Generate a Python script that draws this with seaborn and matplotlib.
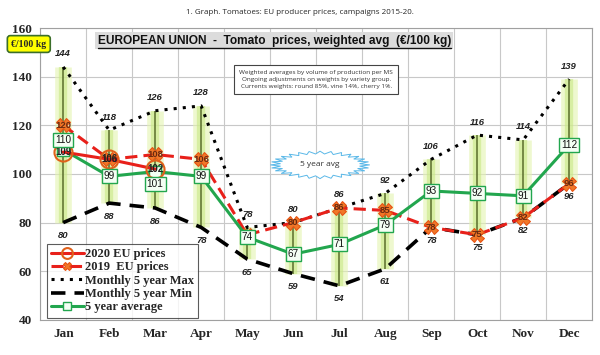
import numpy as np
import matplotlib
matplotlib.use("Agg")
import matplotlib.pyplot as plt
import matplotlib.patches as mpatches
import pandas as pd
import seaborn as sns

sns.set_theme(style="white")
plt.rcParams['font.family'] = ['Liberation Sans', 'DejaVu Sans']

months = ["Jan", "Feb", "Mar", "Apr", "May", "Jun", "Jul", "Aug", "Sep", "Oct", "Nov", "Dec"]
max_5y = [144, 118, 126, 128, 78, 80, 86, 92, 106, 116, 114, 139]
min_5y = [80, 88, 86, 78, 65, 59, 54, 61, 78, 75, 82, 96]
avg_5y = [110, 99, 101, 99, 74, 67, 71, 79, 93, 92, 91, 112]
prices_2019 = [120, 106, 108, 106, 75, 80, 86, 85, 78, 75, 82, 96]
prices_2020 = [109, 106, 102]

x = np.arange(len(months))
df = pd.DataFrame({"x": x, "max": max_5y, "min": min_5y, "avg": avg_5y, "p2019": prices_2019})
df20 = pd.DataFrame({"x": x[:len(prices_2020)], "p2020": prices_2020})

fig = plt.figure(figsize=(6, 3.55), dpi=100)
ax = fig.add_axes([0.067, 0.099, 0.92, 0.822])

# min-max range bars with a soft green glow
ax.vlines(x, min_5y, max_5y, colors="#e4f4b0", lw=12, alpha=0.6, zorder=1)
ax.vlines(x, min_5y, max_5y, colors="#c8e884", lw=6, alpha=0.6, zorder=1)
ax.vlines(x, min_5y, max_5y, colors="#5a6e2c", lw=1.1, zorder=2)

sns.lineplot(data=df, x="x", y="max", ax=ax, color="black", lw=2.2, linestyle=(0, (1, 2)),
             label="Monthly 5 year Max", zorder=3)
sns.lineplot(data=df, x="x", y="min", ax=ax, color="black", lw=2.6, linestyle=(0, (4, 2.5)),
             label="Monthly 5 year Min", zorder=3)
sns.lineplot(data=df, x="x", y="avg", ax=ax, color="#22a64e", lw=2.2, marker="s", ms=9,
             markerfacecolor="#f4fff4", markeredgecolor="#22a64e", markeredgewidth=1,
             label="5 year average", zorder=5)
sns.lineplot(data=df, x="x", y="p2019", ax=ax, color="#e8201a", lw=2.2, linestyle=(0, (4, 2)),
             marker="X", ms=10, markerfacecolor="#f07828", markeredgecolor="#e85010",
             label="2019  EU prices", zorder=4)
sns.lineplot(data=df20, x="x", y="p2020", ax=ax, color="#e8201a", lw=2.2, marker="o", ms=13,
             markerfacecolor="none", markeredgecolor="#e0601a", markeredgewidth=1.5,
             label="2020 EU prices", zorder=6)

lab_kw = dict(ha="center", fontsize=6.8, fontweight="bold", style="italic", color="#222222", zorder=8)
for xi, v in zip(x, max_5y):
    ax.text(xi, v + 3.5, str(v), va="bottom", **lab_kw)
for xi, v in zip(x, min_5y):
    ax.text(xi, v - 3.5, str(v), va="top", **lab_kw)
# May 2019 label is hidden behind the average box in the original
for xi, v in zip(x, prices_2019):
    if xi == 4:
        continue
    ax.text(xi, v, str(v), va="center", ha="center", fontsize=6.8, fontweight="bold",
            color="#6a2a10", zorder=7)
for xi, v in zip(x[:len(prices_2020)], prices_2020):
    ax.text(xi, v, str(v), va="center", ha="center", fontsize=7, fontweight="bold",
            color="#222222", zorder=8)
avg_shift = {0: 4, 2: -5}
for xi, v in zip(x, avg_5y):
    ax.text(xi, v + avg_shift.get(xi, 0), str(v), va="center", ha="center", fontsize=7.2,
            color="#111111",
            bbox=dict(boxstyle="square,pad=0.2", fc="#f4fff4", ec="#22a64e", lw=1), zorder=9)

ax.set_xlim(-0.5, 11.5)
ax.set_ylim(40, 160)
ax.set_yticks(np.arange(40, 161, 20))
ax.set_xticks(x)
ax.set_xticklabels(months)
ax.set_xticks(np.arange(-0.5, 12, 1), minor=True)
ax.grid(False)
ax.grid(True, which="minor", axis="x", color="#c8c8c8", lw=0.8)
ax.grid(True, which="major", axis="y", color="#c8c8c8", lw=0.8)
ax.set_axisbelow(True)
ax.set_xlabel("")
ax.set_ylabel("")
for lab in ax.get_xticklabels() + ax.get_yticklabels():
    lab.set_family(["Liberation Serif", "DejaVu Serif"])
    lab.set_fontweight("bold")
    lab.set_fontsize(9.5)
ax.tick_params(axis="both", length=0, pad=6)
for s in ax.spines.values():
    s.set_color("#a0a0a0")
    s.set_linewidth(0.8)

handles, labels = ax.get_legend_handles_labels()
order = ["2020 EU prices", "2019  EU prices", "Monthly 5 year Max", "Monthly 5 year Min", "5 year average"]
hmap = dict(zip(labels, handles))
leg = ax.legend([hmap[k] for k in order], order, loc="lower left", bbox_to_anchor=(0.012, 0.008),
                borderaxespad=0,
                prop={"family": ["Liberation Serif", "DejaVu Serif"], "weight": "bold", "size": 9},
                frameon=True, fancybox=False, handlelength=2.6, handletextpad=0.1,
                labelspacing=0.1, borderpad=0.35, markerscale=0.6)
leg.get_frame().set_edgecolor("#333333")
leg.get_frame().set_linewidth(0.8)
leg.set_zorder(10)

# title and annotations
fig.text(0.5, 0.965, "1. Graph. Tomatoes: EU producer prices, campaigns 2015-20.", ha="center",
         va="center", fontsize=5.8, family=["Open Sans", "DejaVu Sans"])
title = ax.text(0.424, 0.957, "EUROPEAN UNION  -  Tomato  prices, weighted avg  (€/100 kg)",
                transform=ax.transAxes, ha="center", va="center", fontsize=8.6, fontweight="bold",
                color="#111111",
                bbox=dict(boxstyle="square,pad=0.2", fc="#dcdcdc", ec="none"), zorder=10)
fig.canvas.draw()
bb = title.get_window_extent().transformed(ax.transAxes.inverted())
ax.plot([bb.x0, bb.x1], [bb.y0 - 0.004, bb.y0 - 0.004], transform=ax.transAxes,
        color="#111111", lw=1, zorder=11)
fig.text(0.048, 0.876, "€/100 kg", ha="center", va="center", fontsize=7, fontweight="bold",
         family=["Liberation Serif", "DejaVu Serif"],
         bbox=dict(boxstyle="round,pad=0.4,rounding_size=0.3", fc="#ffff00", ec="#3b6e2a", lw=1.2))
ax.text(0.5, 0.825, "Weighted averages by volume of production per MS\n"
        "Ongoing adjustments on weights by variety group.\n"
        "Currents weights: round 85%, vine 14%, cherry 1%.",
        transform=ax.transAxes, ha="center", va="center", fontsize=4.6, linespacing=1.5,
        family=["Open Sans", "DejaVu Sans"], color="#333333",
        bbox=dict(boxstyle="square,pad=0.8", fc="white", ec="#444444", lw=0.8), zorder=10)

# starburst around "5 year avg"
n = 57
t = np.linspace(0, 2 * np.pi, n)
r = np.where(np.arange(n) % 2 == 0, 1.0, 0.8)
cx, cy = 0.507, 0.531
ax.add_patch(mpatches.Polygon(np.c_[cx + 0.09 * r * np.cos(t), cy + 0.047 * r * np.sin(t)],
                              closed=True, transform=ax.transAxes, fc="white", ec="#5ab8e8",
                              lw=0.7, zorder=9))
ax.text(cx, cy, "5 year avg", transform=ax.transAxes, ha="center", va="center", fontsize=6,
        family=["Open Sans", "DejaVu Sans"], color="#333333", zorder=10)

fig.savefig("out.png", dpi=100)
